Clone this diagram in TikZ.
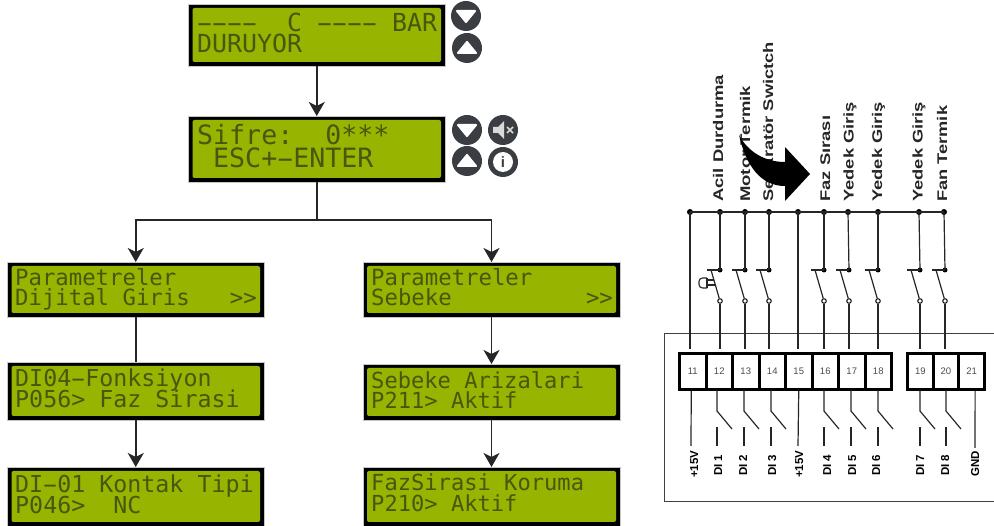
\documentclass[tikz,border=0pt]{standalone}
\usepackage{fontspec}
\setmainfont{Liberation Sans}
\newfontfamily\lcdfam{DejaVu Sans Mono}
\usetikzlibrary{arrows.meta,calc}
\definecolor{lcdgreen}{HTML}{97B400}
\definecolor{lcdtext}{HTML}{48570F}
\definecolor{btn}{HTML}{3A3D42}
\newcommand{\dsh}{\makebox[0.602em]{\scalebox{1.9}[1]{-}}}
\newcommand{\lcdbox}[5]{%
  \node[lcdouter,minimum width=#4 pt-#2 pt,minimum height=#5 pt-#3 pt] (#1) at ({(#2+#4)/2},{(#3+#5)/2}) {};
  \node[lcdinner,minimum width=#4 pt-#2 pt-8pt,minimum height=#5 pt-#3 pt-8pt] (#1in) at (#1.center) {};
}
\newcommand{\lcdline}[5]{\node[lcdline,font=\lcdfam\fontsize{#4}{#4}\selectfont] (#1) at (#2,#3) {#5};}
\newcommand{\toplabel}[4]{\node[toplab] (#1) at (#2,202) {\resizebox{#3pt}{\height}{#4}};}
\newcommand{\botlabel}[4]{\node[botlab] (#1) at (#2,#3) {#4};}
\tikzset{
  x=1pt,y=-1pt,
  lcdouter/.style={draw=gray!45,line width=0.7pt,fill=black,inner sep=0,outer sep=0},
  lcdinner/.style={fill=lcdgreen,rounded corners=2pt,inner sep=0},
  lcdline/.style={anchor=base west,inner sep=0,text=lcdtext},
  flow/.style={draw=black!85,line width=1.6pt},
  arr/.style={flow,-{Stealth[length=14pt,width=16pt,inset=4pt]}},
  bbtn/.style={circle,fill=btn,minimum size=30pt,inner sep=0},
  tri/.style={fill=white,draw=white,line width=2pt,line join=round},
  wire/.style={draw=black!85,line width=1.2pt},
  busdot/.style={circle,fill=black,minimum size=6pt,inner sep=0},
  opendot/.style={circle,draw=black,fill=white,line width=1pt,minimum size=4.5pt,inner sep=0},
  termcell/.style={draw=black,line width=3pt,fill=white,minimum height=36pt,inner sep=0,font=\fontsize{9.5}{10}\selectfont,text=black!70},
  toplab/.style={rotate=90,anchor=base west,inner sep=0,font=\bfseries\fontsize{14}{14}\selectfont,text=black!85},
  botlab/.style={rotate=90,anchor=base west,inner sep=0,font=\bfseries\fontsize{11.5}{11.5}\selectfont},
}
\begin{document}
\begin{tikzpicture}
\useasboundingbox (0,0) rectangle (994,526);
% LCD boxes
\lcdbox{bA}{188.5}{4}{445}{66}
\lcdbox{bB}{188.5}{116}{445}{182}
\lcdbox{lA}{7.5}{262}{264}{317}
\lcdbox{lB}{7.5}{362}{264}{420}
\lcdbox{lC}{7.5}{467}{264}{526}
\lcdbox{rA}{363}{262}{620}{317}
\lcdbox{rB}{363}{364}{620}{420}
\lcdbox{rC}{363}{467}{620}{526}
% LCD text
\lcdline{tA1}{197}{32}{24.9}{\dsh\dsh\dsh\dsh\ \ C \dsh\dsh\dsh\dsh\ BAR}
\lcdline{tA2}{197}{53}{24.9}{DURUYOR}
\lcdline{tB1}{197}{145}{26.6}{Sifre:\ \ 0***}
\lcdline{tB2}{197}{168}{26.6}{\ ESC+\dsh ENTER}
\lcdline{tL1}{15}{286}{22.3}{Parametreler}
\lcdline{tL2}{15}{306}{22.3}{Dijital Giris\ \ \ >>}
\lcdline{tL3}{15}{387}{23.3}{DI04\dsh Fonksiyon}
\lcdline{tL4}{15}{408}{23.3}{P056> Faz Sirasi}
\lcdline{tL5}{15}{493}{23.3}{DI\dsh 01 Kontak Tipi}
\lcdline{tL6}{15}{514}{23.3}{P046>\ \ NC}
\lcdline{tR1}{371}{286}{22.3}{Parametreler}
\lcdline{tR2}{371}{306}{22.3}{Sebeke\ \ \ \ \ \ \ \ \ \ >>}
\lcdline{tR3}{371}{389}{22.1}{Sebeke Arizalari}
\lcdline{tR4}{371}{409}{22.1}{P211> Aktif}
\lcdline{tR5}{371}{491}{22.1}{FazSirasi Koruma}
\lcdline{tR6}{371}{512}{22.1}{P210> Aktif}
% flow
\coordinate (split) at (bB.south |- 0,220);
\draw[arr] (bA.south) -- (bB.north);
\draw[flow] (bB.south) -- (split);
\draw[arr] (split) -| (lA.north);
\draw[arr] (split) -| (rA.north);
\draw[flow] (lA.south) -- (lB.north);
\draw[arr] (lB.south) -- (lC.north);
\draw[arr] (rA.south) -- (rB.north);
\draw[arr] (rB.south) -- (rC.north);
% buttons
\node[bbtn] (dnA) at (466,16) {};
\fill[tri] ($(dnA.center)+(-9,-5)$) -- ++(18,0) -- ++(-9,11) -- cycle;
\node[bbtn] (upA) at (467,48) {};
\fill[tri] ($(upA.center)+(-9,5)$) -- ++(18,0) -- ++(-9,-11) -- cycle;
\node[bbtn] (dnB) at (467,130) {};
\fill[tri] ($(dnB.center)+(-9,-5)$) -- ++(18,0) -- ++(-9,11) -- cycle;
\node[bbtn] (upB) at (467,161) {};
\fill[tri] ($(upB.center)+(-9,5)$) -- ++(18,0) -- ++(-9,-11) -- cycle;
\node[bbtn] (mute) at (503,130) {};
\fill[white!85!black] ($(mute.center)+(-10,-3)$) -- ++(5,0) -- ++(6,-6) -- ++(0,18) -- ++(-6,-6) -- ++(-5,0) -- cycle;
\draw[white!85!black,line width=1.6pt] ($(mute.center)+(4,-3)$) -- ++(6,6) ($(mute.center)+(10,-3)$) -- ++(-6,6);
\node[bbtn] (info) at (503,162) {};
\node[circle,fill=white,minimum size=20pt,inner sep=0,text=btn,font=\bfseries\fontsize{15}{15}\selectfont] (infoi) at (info.center) {i};
% enclosure
\draw[draw=black!75,line width=1pt] (994,334) -- (664,334) -- (664,502) -- (994,502);
% terminals
\foreach \n [count=\i from 0] in {11,...,18}
  \node[termcell,minimum width=26.5pt] (t\n) at ({692.75+26.5*\i},371.5) {\n};
\foreach \n [count=\i from 0] in {19,20,21}
  \node[termcell,minimum width=25.67pt] (t\n) at ({920.3+25.67*\i},371.5) {\n};
% bus
\foreach \nm/\x in {a/690,b/720,c/745,d/769,e/798,f/824,g/848,h/878,i/919,j/944}
  \node[busdot] (bus\nm) at (\x,212) {};
\draw[wire] (busa.center) -- (busj.center);
% plain feeds
\coordinate (enda) at (690,349);
\coordinate (ende) at (798,349);
\draw[wire] (busa.center) -- (enda);
\draw[wire] (buse.center) -- (ende);
% contacts
\foreach \nm/\x in {b/720,c/745,d/769,f/824,g/849,h/878,i/920,j/945}{
  \node[busdot,minimum size=5pt] (ct\nm) at (\x,270) {};
  \node[opendot] (co\nm) at (\x,301) {};
  \coordinate (ce\nm) at (\x,349);
  \coordinate (cl\nm) at ({\x-13},270);
  \coordinate (cs\nm) at ({\x-9},270);
  \draw[wire] (bus\nm.center) -- (ct\nm.center);
  \draw[wire] (ct\nm.center) -- (cl\nm);
  \draw[wire] (cs\nm) -- (co\nm);
  \draw[wire] (co\nm) -- (ce\nm);
}
% pushbutton on 12
\draw[draw=black!85,line width=1.1pt,rounded corners=3.5pt] (707,278) -- (699,278) -- (699,288) -- (707,288);
\draw[draw=black!85,line width=1.1pt] (707,278) -- (707,288);
\draw[draw=black!85,line width=1.1pt] (707,280) -- (714,280) (707,285) -- (716,285);
% terminal outputs
\coordinate (o15a) at (691,446);
\coordinate (o15b) at (798,446);
\coordinate (ognd) at (975,448);
\draw[wire] (t11.south) ++(-1.5,0) -- (o15a);
\draw[wire] (t15.south) ++(0,0) -- (o15b);
\draw[wire] (t21.south) ++(3.5,0) -- (ognd);
\foreach \t/\x in {12/717,13/744,14/771,16/824,17/851,18/878,19/920,20/946}{
  \coordinate (k\t) at (\x,411);
  \coordinate (m\t) at ({\x+15},429);
  \coordinate (n\t) at (\x,427);
  \coordinate (p\t) at (\x,446);
  \draw[wire] (\x,390) -- (k\t) -- (m\t);
  \draw[wire] (n\t) -- (p\t);
}
% top labels
\toplabel{lb1}{723}{127}{Acil Durdurma}
\toplabel{lb2}{750}{116}{Motor Termik}
\toplabel{lb3}{773}{160}{Separatör Swictch}
\toplabel{lb4}{830}{86}{Faz Sırası}
\toplabel{lb5}{853.5}{100}{Yedek Giriş}
\toplabel{lb6}{882}{100}{Yedek Giriş}
\toplabel{lb7}{922.5}{100}{Yedek Giriş}
\toplabel{lb8}{947}{96}{Fan Termik}
% bottom labels
\botlabel{bl1}{698}{478}{+15V}
\botlabel{bl2}{722}{476}{DI 1}
\botlabel{bl3}{747}{476}{DI 2}
\botlabel{bl4}{776}{476}{DI 3}
\botlabel{bl5}{803}{478}{+15V}
\botlabel{bl6}{831}{476}{DI 4}
\botlabel{bl7}{856}{476}{DI 5}
\botlabel{bl8}{880}{476}{DI 6}
\botlabel{bl9}{924}{476}{DI 7}
\botlabel{bl10}{949}{476}{DI 8}
\botlabel{bl11}{979}{477}{GND}
% big curved arrow
\fill[black] (739,135) .. controls (748,152) and (765,162) .. (785,162) -- (785,147) -- (810,174) -- (785,201) -- (785,186) .. controls (760,186) and (746,165) .. (739,135) -- cycle;
\end{tikzpicture}
\end{document}
